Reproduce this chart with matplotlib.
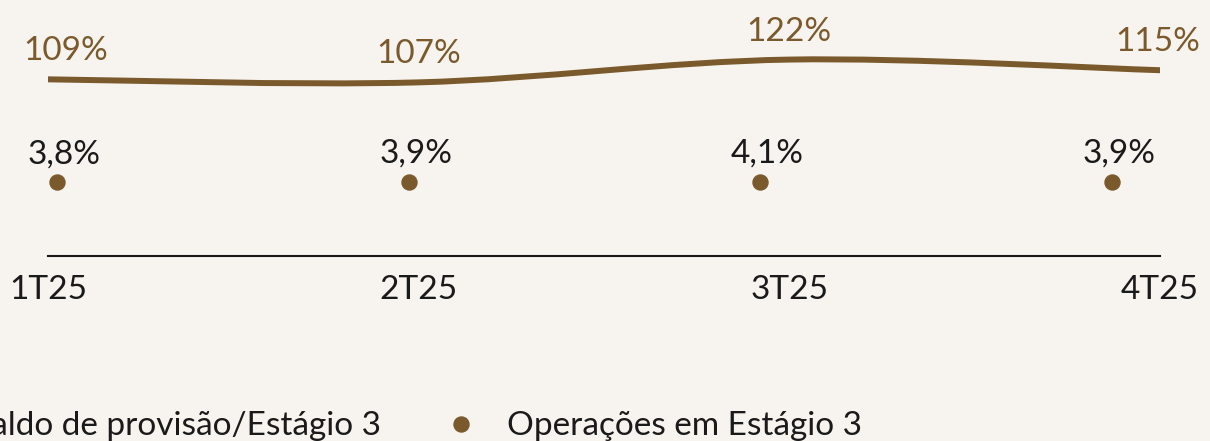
import numpy as np
import matplotlib
matplotlib.use('Agg')
import matplotlib.pyplot as plt
from matplotlib.path import Path
from matplotlib.patches import PathPatch
from matplotlib.lines import Line2D

quarters = ['1T25', '2T25', '3T25', '4T25']
saldo = [109, 107, 122, 115]          # Saldo de provisão/Estágio 3 (%)
operacoes = [3.8, 3.9, 4.1, 3.9]      # Operações em Estágio 3 (%)

bg = '#F7F3EE'
brown = '#7A5A2C'
dark = '#1A1A1A'
fs = 24

plt.rcParams['font.family'] = ['Lato', 'DejaVu Sans']

fig = plt.figure(figsize=(12.1, 4.41), dpi=100, facecolor=bg)
W, H = 1210, 441

# main axis (line)
ax = fig.add_axes([48 / W, 185 / H, 1112 / W, 256 / H])
ax.set_facecolor('none')
ax.set_xlim(0, 3)
ax.set_ylim(-7.25, 161.2)

# smooth curve through the points (catmull-rom as cubic bezier)
x = np.arange(len(saldo), dtype=float)
pts = np.column_stack([x, saldo])
ext = np.vstack([pts[0], pts, pts[-1]])
verts = [tuple(pts[0])]
codes = [Path.MOVETO]
for i in range(len(pts) - 1):
	p0, p1, p2, p3 = ext[i], ext[i + 1], ext[i + 2], ext[i + 3]
	c1 = p1 + (p2 - p0) / 6
	c2 = p2 - (p3 - p1) / 6
	verts += [tuple(c1), tuple(c2), tuple(p2)]
	codes += [Path.CURVE4] * 3
ax.add_patch(PathPatch(Path(verts, codes), fill=False, edgecolor=brown, lw=4.3,
	capstyle='round', joinstyle='round'))

line_dx = [18, 0, 0, -2]
for i, v in enumerate(saldo):
	ax.annotate('%d%%' % v, (i, v), xytext=(line_dx[i], 19), textcoords='offset pixels',
		ha='center', va='baseline', fontsize=fs, color=brown)

ax.set_xticks(x, quarters)
ax.tick_params(axis='x', length=0, pad=13.5, labelsize=fs, labelcolor=dark)
ax.set_yticks([])
for s in ['top', 'left', 'right']:
	ax.spines[s].set_visible(False)
ax.spines['bottom'].set_color(dark)
ax.spines['bottom'].set_linewidth(1.5)

# dots axis
ax2 = fig.add_axes([57 / W, 185 / H, 1055 / W, 256 / H])
ax2.set_facecolor('none')
ax2.set_xlim(0, 3)
ax2.set_ylim(3.9 - 74, 3.9 + 182)
ax2.plot(x, operacoes, 'o', color=brown, markersize=10.8, clip_on=False)
for i, v in enumerate(operacoes):
	ax2.annotate(('%.1f%%' % v).replace('.', ','), (i, v), xytext=(7, 19),
		textcoords='offset pixels', ha='center', va='baseline', fontsize=fs, color=dark)
ax2.axis('off')

handles = [Line2D([], [], color=brown, lw=4.3),
	Line2D([], [], color=brown, marker='o', ls='none', markersize=10.8)]
labels = ['Saldo de provisão/Estágio 3', 'Operações em Estágio 3']
fig.legend(handles, labels, loc='center left', bbox_to_anchor=(-0.0855, 0.033), ncol=2,
	frameon=False, fontsize=fs, handlelength=1.0, handletextpad=0.88, columnspacing=1.9,
	borderaxespad=0, labelcolor=dark)

fig.savefig('out.png', dpi=100, facecolor=bg)
